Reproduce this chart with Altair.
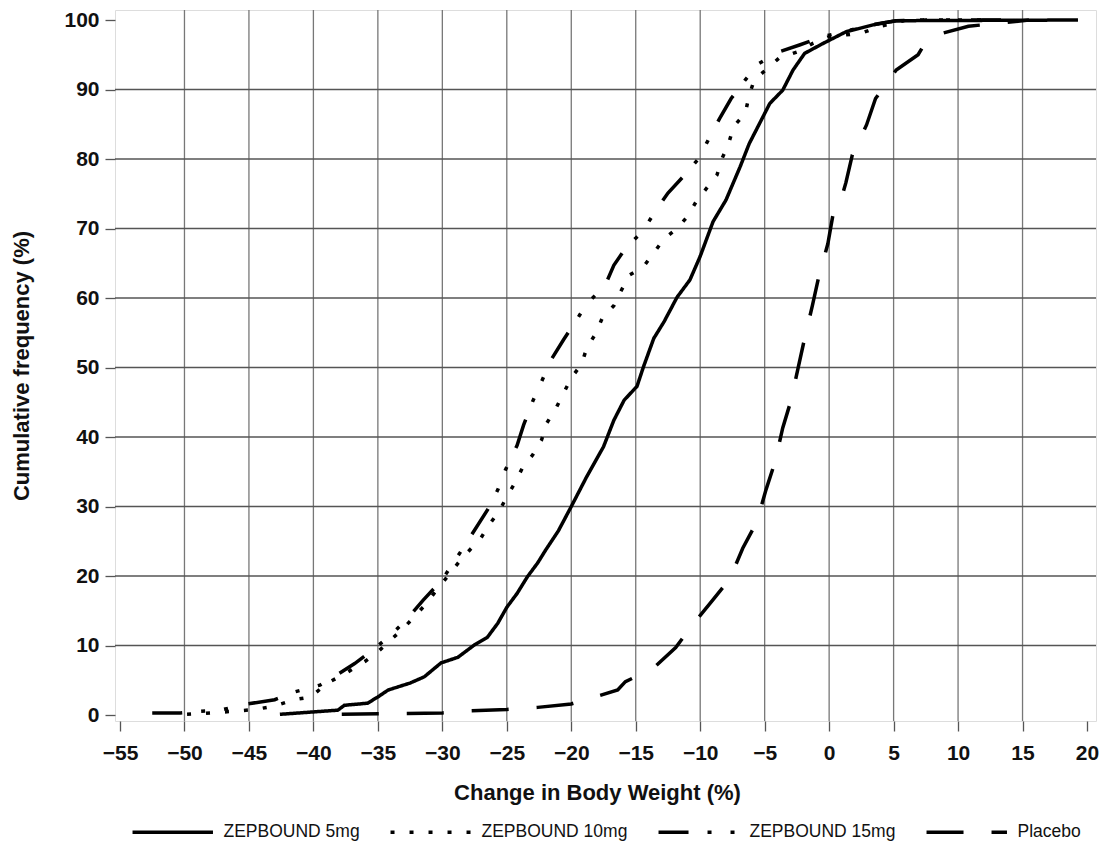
import altair as alt
import pandas as pd

series_names = ["ZEPBOUND 5mg", "ZEPBOUND 10mg", "ZEPBOUND 15mg", "Placebo"]

x_5mg = [-42.6, -38.1, -37.6, -35.8, -35.0, -34.2, -32.5, -31.4, -30.1, -28.8, -27.5, -26.5, -25.7,
         -25.0, -24.2, -23.4, -22.6, -22.0, -21.0, -20.0, -18.8, -17.5, -16.7, -15.9, -14.9, -14.4,
         -13.6, -12.8, -11.8, -10.8, -10.0, -9.0, -8.0, -6.9, -6.2, -5.4, -4.6, -3.6, -2.8, -1.9,
         -0.5, 1.3, 3.4, 5.2, 19.3]
y_5mg = [0.1, 0.7, 1.4, 1.7, 2.6, 3.6, 4.6, 5.5, 7.5, 8.3, 10.1, 11.2, 13.2,
         15.5, 17.5, 19.9, 21.9, 23.7, 26.5, 30.0, 34.3, 38.6, 42.4, 45.3, 47.3, 50.1,
         54.2, 56.6, 60.1, 62.6, 66.0, 71.0, 74.1, 78.9, 82.2, 85.1, 88.0, 89.9, 92.8, 95.2,
         96.6, 98.3, 99.3, 99.9, 100.0]

x_10mg = [-49.8, -48.0, -46.5, -44.5, -43.0, -41.5, -40.2, -39.0, -37.5, -36.0, -35.0, -34.0, -33.0,
          -31.5, -30.0, -28.5, -27.0, -26.4, -25.6, -25.0, -24.4, -23.8, -23.0, -22.3, -21.9, -21.2,
          -20.6, -20.0, -19.2, -18.8, -18.1, -17.6, -16.7, -16.2, -15.5, -14.4, -13.6, -12.8, -11.8,
          -11.0, -10.3, -9.5, -8.7, -8.3, -7.8, -7.4, -6.5, -6.2, -5.8, -4.8, -3.9, -2.5, -1.3, 0.0,
          2.5, 3.8, 6.0, 12.0]
y_10mg = [0.1, 0.3, 0.5, 0.8, 1.3, 2.2, 2.6, 4.5, 6.0, 7.7, 9.1, 10.8, 12.5,
          15.5, 19.0, 22.5, 25.5, 27.3, 29.3, 31.4, 33.3, 35.5, 37.4, 39.6, 42.0, 44.1,
          46.3, 48.5, 50.5, 52.8, 54.9, 57.1, 58.9, 60.8, 63.3, 64.5, 66.5, 68.5, 70.0,
          71.7, 73.9, 75.8, 77.7, 80.1, 82.2, 84.7, 86.6, 89.2, 91.4, 93.0, 94.5, 95.4, 96.6, 97.6,
          98.1, 99.0, 100.0, 100.0]

x_15mg = [-52.5, -50.3, -47.0, -45.1, -43.0, -41.5, -39.5, -38.4, -36.8, -35.3, -34.0, -32.8, -31.5,
          -30.0, -28.4, -26.5, -25.7, -25.1, -24.2, -23.7, -23.0, -22.3, -21.5, -20.6, -19.6, -18.8,
          -17.4, -16.7, -15.7, -14.5, -13.4, -12.5, -11.2, -10.1, -9.25, -8.5, -7.6, -6.5, -5.5,
          -3.9, -2.3, -0.5, 1.1, 2.6, 3.9, 5.2, 8.0, 14.0]
y_15mg = [0.3, 0.3, 0.8, 1.6, 2.2, 3.3, 4.3, 5.5, 7.4, 9.5, 11.5, 13.7, 16.5,
          19.5, 24.0, 29.5, 32.4, 35.3, 38.8, 41.7, 45.1, 48.0, 51.3, 54.0, 56.8, 59.2,
          61.7, 64.7, 67.4, 69.5, 72.7, 75.1, 77.7, 80.1, 83.2, 85.8, 88.7, 91.4, 93.7,
          95.4, 96.4, 97.6, 98.3, 99.0, 99.5, 99.9, 100.0, 100.0]

x_placebo = [-37.8, -30.0, -27.8, -25.0, -22.6, -20.0, -17.8, -16.4, -15.8, -13.6, -11.9, -10.5, -9.0,
             -7.7, -6.7, -5.6, -4.9, -4.2, -3.6, -2.95, -2.4, -1.9, -1.3, -0.8, -0.1, 0.3, 0.8,
             1.3, 1.8, 2.9, 3.6, 5.2, 6.9, 7.5, 8.8, 10.8, 13.5, 15.5]
y_placebo = [0.1, 0.3, 0.6, 0.8, 1.1, 1.6, 2.8, 3.6, 4.8, 6.8, 9.7, 13.2, 16.6,
             19.6, 24.0, 27.8, 32.4, 36.4, 41.3, 45.3, 50.0, 54.2, 58.9, 63.1, 67.8, 72.0, 73.4,
             76.6, 80.6, 84.9, 88.7, 92.8, 95.0, 96.9, 98.1, 99.1, 99.6, 100.0]

x_ticks = [-55, -50, -45, -40, -35, -30, -25, -20, -15, -10, -5, 0, 5, 10, 15, 20]
y_ticks = [0, 10, 20, 30, 40, 50, 60, 70, 80, 90, 100]
x_grid = [-50, -45, -40, -35, -30, -25, -20, -15, -10, -5, 0, 5, 10, 15]
y_grid = [10, 20, 30, 40, 50, 60, 70, 80, 90]

dash_patterns = [[1, 0], [4, 15], [30, 19, 4, 19, 4, 21], [37, 28]]

rows = []
for name, xs, ys in zip(series_names,
                        [x_5mg, x_10mg, x_15mg, x_placebo],
                        [y_5mg, y_10mg, y_15mg, y_placebo]):
    for i, (xv, yv) in enumerate(zip(xs, ys)):
        rows.append({"series": name, "x": xv, "y": yv, "order": i})
df = pd.DataFrame(rows)

FONT = "Liberation Sans"
xscale = alt.Scale(domain=[-55.388, 20.698], nice=False, zero=False)
yscale = alt.Scale(domain=[-0.86, 101.44], nice=False, zero=False)

x_axis = alt.Axis(values=x_ticks, title="Change in Body Weight (%)", grid=False,
                  tickSize=10, tickColor="#555555", tickWidth=1.3,
                  domain=False, labelFont=FONT, labelFontSize=21, labelFontWeight="bold",
                  labelColor="#111111", labelPadding=11, labelFlush=False,
                  titleFont=FONT, titleFontSize=22, titleFontWeight="bold",
                  titleColor="#111111", titlePadding=19, titleX=482)
y_axis = alt.Axis(values=y_ticks, title="Cumulative frequency (%)", grid=False,
                  tickSize=10, tickColor="#555555", tickWidth=1.3,
                  domain=False, labelFont=FONT, labelFontSize=21, labelFontWeight="bold",
                  labelColor="#111111", labelPadding=6, labelFlush=False,
                  titleFont=FONT, titleFontSize=22, titleFontWeight="bold",
                  titleColor="#111111", titlePadding=30)

vgrid = alt.Chart(pd.DataFrame({"x": x_grid})).mark_rule(color="#777777", strokeWidth=1.3).encode(
    x=alt.X("x:Q", scale=xscale, axis=x_axis)
)
hgrid = alt.Chart(pd.DataFrame({"y": y_grid})).mark_rule(color="#555555", strokeWidth=1.3).encode(
    y=alt.Y("y:Q", scale=yscale, axis=y_axis)
)

lines = alt.Chart(df).mark_line(color="black", strokeWidth=3.5, strokeCap="butt").encode(
    x=alt.X("x:Q", scale=xscale, axis=x_axis),
    y=alt.Y("y:Q", scale=yscale, axis=y_axis),
    strokeDash=alt.StrokeDash("series:N",
                              scale=alt.Scale(domain=series_names, range=dash_patterns),
                              legend=alt.Legend(title=None, orient="none", direction="horizontal",
                                                legendX=49, legendY=813, padding=0,
                                                symbolType="M-10.3,0H10.3", symbolSize=61,
                                                symbolStrokeWidth=3.5, symbolStrokeColor="black",
                                                labelFont=FONT, labelFontSize=17.5,
                                                labelColor="#111111", labelOffset=42,
                                                columnPadding=23)),
    order="order:Q",
)

chart = alt.layer(vgrid, hgrid, lines).properties(
    width=981, height=711,
    autosize=alt.AutoSizeParams(type="none"),
    padding={"left": 107, "top": 2, "right": 3, "bottom": 121},
).configure_view(stroke="#555555", strokeWidth=1.5).configure(background="white")

chart.save("out.html", embed_options={"renderer": "svg", "actions": False})
